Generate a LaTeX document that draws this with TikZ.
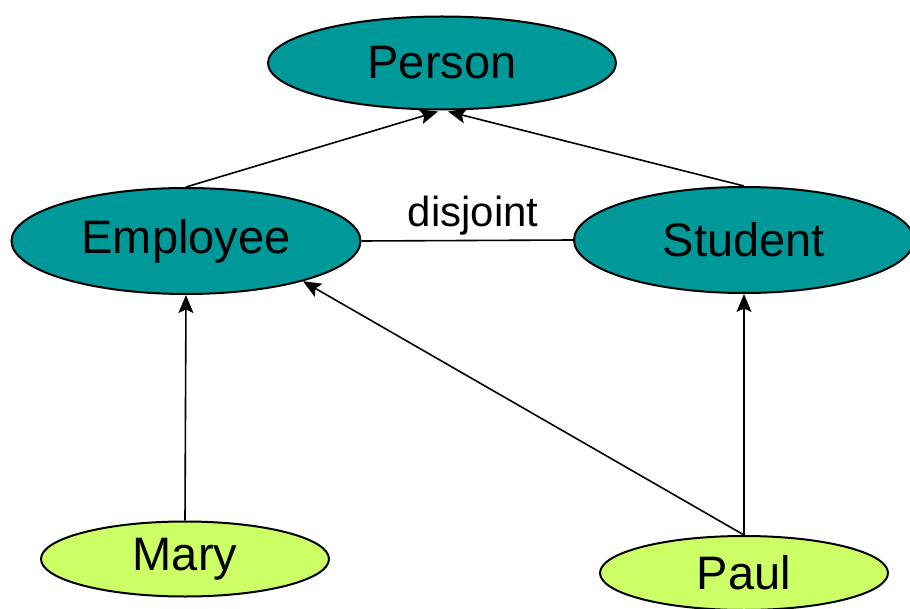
\documentclass[tikz,border=0pt]{standalone}
\usepackage{fontspec}
\setmainfont{Liberation Sans}
\usetikzlibrary{arrows.meta,shapes.geometric,calc}
\definecolor{classfill}{RGB}{0,153,153}
\definecolor{indivfill}{RGB}{204,255,102}
\begin{document}
\begin{tikzpicture}[x=0.5pt,y=-0.5pt,
  concept/.style={ellipse,draw=black,line width=1pt,fill=classfill,inner sep=0pt,
    font=\fontsize{23.5}{28}\selectfont},
  individual/.style={ellipse,draw=black,line width=1pt,fill=indivfill,inner sep=0pt,
    font=\fontsize{23.5}{28}\selectfont},
  isa/.style={line width=0.8pt,-{Stealth[length=9pt,width=7.5pt,inset=1.8pt]}},
  plain/.style={line width=0.8pt}]
\useasboundingbox (0,0) rectangle (910,609);
% classes
\node[concept,minimum width=174pt,minimum height=46.5pt] (P) at (442,63) {Person};
\node[concept,minimum width=174.5pt,minimum height=53pt] (E) at (186,241) {Employee};
\node[concept,minimum width=170pt,minimum height=53pt] (S) at (744,240) {Student};
% individuals
\node[individual,minimum width=144pt,minimum height=37.5pt] (M) at (185,559) {Mary};
\node[individual,minimum width=144pt,minimum height=37pt] (Pa) at (744,573) {Paul};
% subclass links
\draw[isa] (E.north) -- ($(P.south)+(-4,1)$);
\draw[isa] (S.north) -- ($(P.south)+(6,1)$);
% disjointness
\draw[plain] (E.east) -- node[above=-1pt,xshift=3pt,font=\fontsize{21}{25}\selectfont] {disjoint} (S.west);
% instance links
\draw[isa] (M.north) -- (E.south);
\draw[isa] (Pa.north) -- (S.south);
\draw[isa] (Pa.north) -- (E.-19);
\end{tikzpicture}
\end{document}
